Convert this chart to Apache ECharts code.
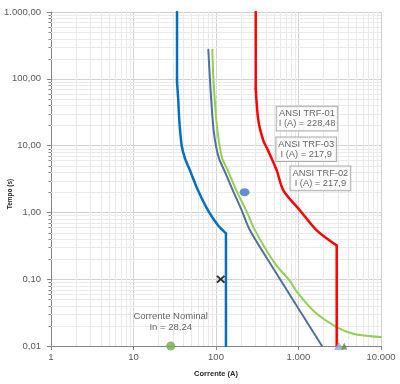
<!DOCTYPE html>
<html><head><meta charset="utf-8">
<script src="https://cdn.jsdelivr.net/npm/echarts@6/dist/echarts.min.js"></script>
<style>html,body{margin:0;padding:0;background:#fff}#c{width:400px;height:384px}</style>
</head><body><div id="c"></div>
<script>
// ---- data (Corrente in A, Tempo in s) ----
const xTicks = [1, 10, 100, 1000, 10000];
const yTicks = [0.01, 0.1, 1, 10, 100, 1000];

const blueI  = [33.7, 33.7, 34.9, 35.9, 38.4, 42.1, 48.4, 60.5, 80, 105.7, 132, 132];
const blueT  = [1000, 90, 47.5, 23.8, 9.96, 6.43, 4.25, 2.14, 1.07, 0.64, 0.485, 0.01];

const slateI = [80.7, 84.6, 91.2, 97.2, 108.7, 126, 160, 205, 258, 513, 1928];
const slateT = [273, 94.6, 23.8, 12, 6.43, 4.25, 2.14, 1.07, 0.54, 0.135, 0.01];

const greenI = [90.2, 93.3, 101, 108, 119, 139, 176, 232, 297, 519, 757, 995, 1585, 2904, 4580, 10000];
const greenT = [273, 94.6, 23.8, 12, 6.43, 4.25, 2.14, 1.07, 0.538, 0.171, 0.1, 0.0607, 0.032, 0.0192, 0.0153, 0.0136];

const redI   = [303, 303, 326, 374, 427, 545, 655, 1042, 1662, 2904, 2904];
const redT   = [1000, 71.8, 23.8, 12, 8.48, 4.25, 2.14, 1.07, 0.538, 0.32, 0.01];

const nominalPoint = [28.24, 0.01];
const nominalText  = 'Corrente Nominal\nIn = 28,24';
const bluePoint    = [222, 2.0];
const crossPoint   = [114, 0.1];
const triBluePoint = [3078, 0.01];
const triGreenPoint= [3581, 0.01];

const annotText = ['ANSI TRF-01\nI (A) = 228,48', 'ANSI TRF-03\nI (A) = 217,9', 'ANSI TRF-02\nI (A) = 217,9'];
const annotI    = [1268, 1240, 1842];
const annotT    = [25.3, 8.84, 3.23];

// ---- helpers ----
function zip(a, b) { return a.map((v, i) => [v, b[i]]); }
function fmt(v, dec) {
  const s = v.toFixed(dec);
  let parts = s.split('.');
  let i = parts[0].replace(/\B(?=(\d{3})+(?!\d))/g, '.');
  return parts[1] ? i + ',' + parts[1] : i;
}
function minorVals(ticks) {
  const out = [];
  for (let k = 0; k < ticks.length - 1; k++)
    for (let m = 2; m <= 9; m++) out.push(ticks[k] * m);
  return out;
}
const xMinor = minorVals(xTicks);
const yMinor = minorVals(yTicks);

const FONT = '"Liberation Sans", Arial, sans-serif';
const chart = echarts.init(document.getElementById('c'), null, {renderer: 'canvas'});

const minorColor = '#eaeaea';
const axisColor = '#868686';

// a curve: straight vertical parts at its ends, smooth middle part
function curveSeries(I, T, color, width, z, vTop, vBottom) {
  const pts = zip(I, T);
  const out = [];
  const s = vTop ? 1 : 0;
  const e = vBottom ? pts.length - 2 : pts.length - 1;
  const base = {type: 'line', showSymbol: false, symbol: 'none', z: z, silent: true,
    lineStyle: {color: color, width: width, cap: 'round', join: 'round'}};
  out.push(Object.assign({}, base, {data: pts.slice(s, e + 1), smooth: 0.3}));
  if (vTop) out.push(Object.assign({}, base, {data: pts.slice(0, 2)}));
  if (vBottom) out.push(Object.assign({}, base, {data: pts.slice(pts.length - 2)}));
  return out;
}

chart.setOption({
  animation: false,
  backgroundColor: '#fff',
  grid: {left: 51, right: 19, top: 12, bottom: 38},
  xAxis: {
    type: 'log', logBase: 10, min: 1, max: 10000,
    name: 'Corrente (A)', nameLocation: 'middle', nameGap: 24,
    nameTextStyle: {fontFamily: FONT, fontSize: 7.5, fontWeight: 'bold', color: '#262626'},
    axisLine: {show: true, lineStyle: {color: axisColor, width: 1}},
    axisTick: {show: true, length: 4, lineStyle: {color: axisColor}},
    axisLabel: {fontFamily: FONT, fontSize: 9.5, color: '#595959', margin: 6,
      formatter: v => fmt(Math.round(v), 0)},
    splitLine: {show: true, lineStyle: {color: '#d2d2d2', width: 1}},
    minorTick: {show: false}, minorSplitLine: {show: false}
  },
  yAxis: {
    type: 'log', logBase: 10, min: 0.01, max: 1000,
    axisLine: {show: true, lineStyle: {color: axisColor, width: 1}},
    axisTick: {show: true, length: 4, lineStyle: {color: axisColor}},
    axisLabel: {fontFamily: FONT, fontSize: 9.5, color: '#595959', margin: 10,
      formatter: v => fmt(Math.round(v * 100) / 100, 2)},
    splitLine: {show: true, lineStyle: {color: '#d2d2d2', width: 1}},
    minorTick: {show: false}, minorSplitLine: {show: false}
  },
  graphic: [{
    type: 'text', x: 10, y: 194, rotation: Math.PI / 2,
    style: {text: 'Tempo (s)', font: 'bold 6.5px ' + FONT, fill: '#262626',
      textAlign: 'center', textVerticalAlign: 'middle'}
  }],
  series: [
    {
      type: 'custom', silent: true, z: 1, clip: false,
      data: xMinor.map(v => [v, 1]),
      renderItem: (params, api) => {
        const p1 = api.coord([api.value(0), 0.01]);
        const p2 = api.coord([api.value(0), 1000]);
        const x = Math.round(p1[0]) + 0.5;
        return {type: 'line', shape: {x1: x, y1: p1[1], x2: x, y2: p2[1]},
          style: {stroke: minorColor, lineWidth: 1}};
      }
    },
    {
      type: 'custom', silent: true, z: 1, clip: false,
      data: yMinor.map(v => [1, v]),
      renderItem: (params, api) => {
        const p1 = api.coord([1, api.value(1)]);
        const p2 = api.coord([10000, api.value(1)]);
        const y = Math.round(p1[1]) + 0.5;
        return {type: 'group', children: [
          {type: 'line', shape: {x1: p1[0], y1: y, x2: p2[0], y2: y},
            style: {stroke: minorColor, lineWidth: 1}},
          {type: 'line', shape: {x1: p1[0] - 2.5, y1: y, x2: p1[0], y2: y},
            style: {stroke: axisColor, lineWidth: 1}}
        ]};
      }
    },
    ...curveSeries(slateI, slateT, '#50729a', 2, 3, false, false),
    ...curveSeries(greenI, greenT, '#92d050', 2, 3, false, false),
    ...curveSeries(blueI, blueT, '#0070c0', 2.5, 4, true, true),
    ...curveSeries(redI, redT, '#ff0000', 2.5, 4, true, true),
    {type: 'scatter', z: 6, data: [bluePoint], symbol: 'circle', symbolSize: [10, 8],
      itemStyle: {color: '#4472c4'}},
    {type: 'scatter', z: 6, data: [crossPoint], symbolSize: [9, 8],
      symbol: 'path://M0,1.6L1.6,0L5,3.4L8.4,0L10,1.6L6.6,5L10,8.4L8.4,10L5,6.6L1.6,10L0,8.4L3.4,5Z',
      itemStyle: {color: '#000'}},
    {type: 'scatter', z: 7, data: [nominalPoint], symbol: 'circle', symbolSize: 9, clip: false,
      itemStyle: {color: '#70ad47'},
      label: {show: true, position: 'top', distance: 9, formatter: nominalText,
        fontFamily: FONT, fontSize: 9.5, lineHeight: 10.5, color: '#404040', align: 'center'}},
    {type: 'scatter', z: 7, data: [triBluePoint], symbol: 'triangle', symbolSize: [10, 8], clip: false,
      itemStyle: {color: '#8fa9dc'}},
    {type: 'scatter', z: 8, data: [triGreenPoint], symbol: 'triangle', symbolSize: [6, 7], clip: false,
      itemStyle: {color: '#548235'}},
    {type: 'scatter', z: 8, symbolSize: 0, silent: true,
      data: annotI.map((v, i) => ({value: [v, annotT[i]], label: {formatter: annotText[i]}})),
      label: {show: true, position: 'inside', fontFamily: FONT, fontSize: 9.3, lineHeight: 10.3,
        color: '#404040', backgroundColor: '#fff', borderColor: '#9a9a9a', borderWidth: 1,
        padding: [2, 2, 1, 2], align: 'center'}}
  ]
});
</script></body></html>
